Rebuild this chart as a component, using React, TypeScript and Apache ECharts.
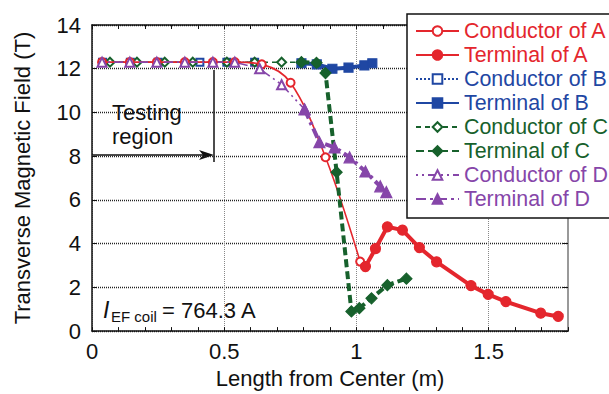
import React, { useEffect, useRef } from "react";
import * as echarts from "echarts";

// ---- data ----
const condA_x = [0.038, 0.143, 0.245, 0.351, 0.457, 0.54, 0.642, 0.751, 0.883, 1.014];
const condA_y = [12.3, 12.3, 12.3, 12.3, 12.3, 12.3, 12.2, 11.36, 7.95, 3.18];

const termA_x = [1.034, 1.072, 1.117, 1.174, 1.238, 1.303, 1.433, 1.498, 1.565, 1.697, 1.763];
const termA_y = [2.95, 3.77, 4.77, 4.62, 3.82, 3.17, 2.08, 1.68, 1.35, 0.82, 0.67];

const condB_x = [0.04, 0.145, 0.25, 0.408, 0.51, 0.615];
const condB_y = [12.3, 12.3, 12.3, 12.3, 12.3, 12.3];

const termB_x = [0.792, 0.85, 0.909, 0.97, 1.03, 1.06];
const termB_y = [12.25, 12.2, 12.0, 12.05, 12.15, 12.25];

const condC_x = [0.068, 0.17, 0.275, 0.381, 0.51, 0.615, 0.717, 0.792];
const condC_y = [12.3, 12.3, 12.3, 12.3, 12.3, 12.3, 12.3, 12.3];

const termC_x = [0.792, 0.849, 0.883, 0.925, 0.981, 1.011, 1.057, 1.117, 1.189];
const termC_y = [12.3, 12.27, 11.8, 7.27, 0.9, 1.05, 1.5, 2.1, 2.4];

const condD_x = [0.038, 0.143, 0.245, 0.351, 0.457, 0.54, 0.634, 0.717, 0.804];
const condD_y = [12.3, 12.3, 12.3, 12.3, 12.3, 12.3, 12.0, 11.27, 10.14];

const termD_x = [0.804, 0.86, 0.917, 0.974, 1.034, 1.09, 1.113];
const termD_y = [10.14, 8.64, 8.4, 7.95, 7.3, 6.62, 6.36];

const xTicks = { min: 0, max: 1.8, interval: 0.5 };
const yTicks = { min: 0, max: 14, interval: 2 };

const RED = "#e4262d";
const BLUE = "#1f47a3";
const GREEN = "#17612c";
const PURPLE = "#8646a9";
const FONT = "Liberation Sans, Arial, Helvetica, sans-serif";
const FS = 22;
const LEGEND_FS = 21.4;

const zip = (xs: number[], ys: number[]) => xs.map((x, i) => [x, ys[i]]);

export default function App() {
  const ref = useRef<HTMLDivElement>(null);
  useEffect(() => {
    if (!ref.current) return;
    const chart = echarts.init(ref.current, undefined, { renderer: "svg" });

    const mkSeries = (
      name: string,
      xs: number[],
      ys: number[],
      color: string,
      width: number,
      type: any,
      symbol: string,
      symbolSize: number,
      smooth: number | boolean = false,
      z = 2
    ) => ({
      name,
      type: "line",
      data: zip(xs, ys),
      symbol,
      symbolSize,
      smooth,
      z,
      itemStyle: { color, borderColor: color, borderWidth: 1.2 },
      lineStyle: { color, width, type },
      emphasis: { disabled: true },
    });

    const series = [
      mkSeries("Conductor of B", condB_x, condB_y, BLUE, 1.5, [2, 2], "emptyRect", 7, false, 1),
      mkSeries("Conductor of C", condC_x, condC_y, GREEN, 1.5, [5, 4], "emptyDiamond", 9, false, 2),
      mkSeries("Conductor of A", condA_x, condA_y, RED, 1.6, "solid", "emptyCircle", 8, 0.35, 3),
      mkSeries("Conductor of D", condD_x, condD_y, PURPLE, 1.6, [2, 4, 2, 4, 9, 4], "emptyTriangle", 9, false, 3),
      mkSeries("Terminal of B", termB_x, termB_y, BLUE, 4, "solid", "rect", 9, false, 4),
      mkSeries("Terminal of C", termC_x, termC_y, GREEN, 4, [8, 4], "diamond", 11, false, 5),
      mkSeries("Terminal of D", termD_x, termD_y, PURPLE, 4, [10, 4, 3, 4], "triangle", 11, false, 5),
      mkSeries("Terminal of A", termA_x, termA_y, RED, 4, "solid", "circle", 10, false, 6),
    ];

    const legendOrder: [string, string][] = [
      ["Conductor of A", RED],
      ["Terminal of A", RED],
      ["Conductor of B", BLUE],
      ["Terminal of B", BLUE],
      ["Conductor of C", GREEN],
      ["Terminal of C", GREEN],
      ["Conductor of D", PURPLE],
      ["Terminal of D", PURPLE],
    ];

    chart.setOption({
      animation: false,
      textStyle: { fontFamily: FONT },
      grid: { left: 92, top: 25, right: 41, bottom: 61, containLabel: false },
      legend: {
        orient: "vertical",
        left: 407,
        top: 14,
        padding: [5, 6, 7, 8],
        itemGap: 0,
        itemWidth: 43,
        itemHeight: 12,
        backgroundColor: "#fff",
        borderColor: "#111",
        borderWidth: 1.5,
        borderRadius: 0,
        selectedMode: false,
        data: legendOrder.map(([n, c]) => ({ name: n, textStyle: { color: c } })),
        textStyle: { fontSize: LEGEND_FS, lineHeight: 24, fontFamily: FONT },
      },
      xAxis: [
        {
          type: "value",
          position: "bottom",
          ...xTicks,
          name: "Length from Center (m)",
          nameLocation: "middle",
          nameGap: 35,
          nameTextStyle: { fontSize: FS, color: "#111", fontFamily: FONT },
          axisLine: { show: true, onZero: false, lineStyle: { color: "#111", width: 1.5 } },
          axisTick: { show: true, inside: true, length: 4, lineStyle: { color: "#111" } },
          minorTick: { show: true, splitNumber: 5, length: 4, lineStyle: { color: "#111" } },
          axisLabel: { fontSize: FS, color: "#111", margin: 9, showMaxLabel: false, fontFamily: FONT },
          splitLine: { show: true, lineStyle: { color: "#888", type: [1, 1], width: 1 } },
        },
        {
          type: "value",
          position: "top",
          ...xTicks,
          axisLine: { show: true, onZero: false, lineStyle: { color: "#111", width: 1.5 } },
          axisTick: { show: true, inside: true, length: 4, lineStyle: { color: "#111" } },
          minorTick: { show: true, splitNumber: 5, length: 4, lineStyle: { color: "#111" } },
          axisLabel: { show: false },
          splitLine: { show: false },
        },
      ],
      yAxis: [
        {
          type: "value",
          position: "left",
          ...yTicks,
          name: "Transverse Magnetic Field (T)",
          nameLocation: "middle",
          nameGap: 59,
          nameTextStyle: { fontSize: FS, color: "#111", fontFamily: FONT },
          axisLine: { show: true, onZero: false, lineStyle: { color: "#111", width: 1.5 } },
          axisTick: { show: true, inside: true, length: 5, lineStyle: { color: "#111" } },
          axisLabel: { fontSize: FS, color: "#111", margin: 11, fontFamily: FONT },
          splitLine: { show: true, lineStyle: { color: "#222", type: [1, 1], width: 1.3 } },
        },
        {
          type: "value",
          position: "right",
          ...yTicks,
          axisLine: { show: true, onZero: false, lineStyle: { color: "#999", width: 2 } },
          axisTick: { show: true, inside: true, length: 5, lineStyle: { color: "#111" } },
          axisLabel: { show: false },
          splitLine: { show: false },
        },
      ],
      series,
      graphic: [
        { type: "text", left: 112, top: 101, style: { text: "Testing", fontSize: FS, fill: "#111", fontFamily: FONT } },
        { type: "text", left: 112, top: 125, style: { text: "region", fontSize: FS, fill: "#111", fontFamily: FONT } },
        { type: "line", shape: { x1: 214, y1: 70, x2: 214, y2: 162 }, style: { stroke: "#111", lineWidth: 1.5 } },
        { type: "line", shape: { x1: 92, y1: 155, x2: 206, y2: 155 }, style: { stroke: "#111", lineWidth: 1.5 } },
        {
          type: "polygon",
          shape: { points: [[199, 150], [214, 155], [199, 160], [203, 155]] },
          style: { fill: "#111" },
        },
        {
          type: "text",
          x: 103,
          y: 310,
          style: { text: "I", fontSize: 23, fontStyle: "italic", fill: "#111", fontFamily: FONT, verticalAlign: "middle" },
        },
        {
          type: "text",
          x: 111,
          y: 316,
          style: { text: "EF coil", fontSize: 15, fill: "#111", fontFamily: FONT, verticalAlign: "middle" },
        },
        {
          type: "text",
          x: 162,
          y: 310,
          style: { text: "= 764.3 A", fontSize: FS, fill: "#111", fontFamily: FONT, verticalAlign: "middle" },
        },
      ],
    });
    return () => chart.dispose();
  }, []);
  return (
    <div
      ref={ref}
      style={{ position: "fixed", left: 0, top: 0, width: 609, height: 394, background: "#fff" }}
    />
  );
}
